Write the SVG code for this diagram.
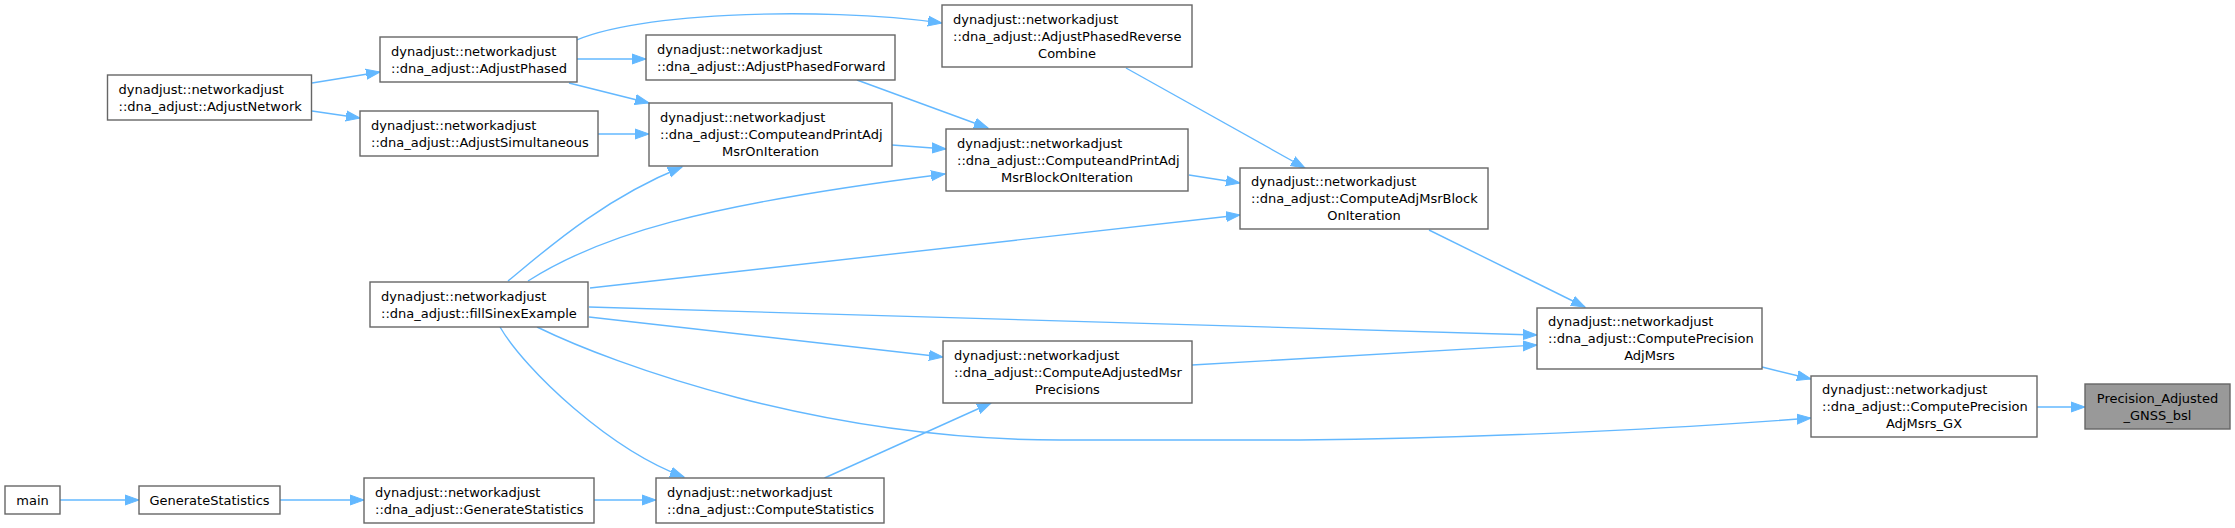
<svg xmlns="http://www.w3.org/2000/svg" width="2235" height="528" viewBox="0 0 2235 528">
<style>
.n rect{fill:#fff;stroke:#666;stroke-width:1.4}
.n.f rect{fill:#999}
.n text{font-family:"DejaVu Sans",sans-serif;font-size:13px;fill:#000}
.n text.c{text-anchor:middle}
#edges path{fill:none;stroke:#63b8ff;stroke-width:1.4;marker-end:url(#ah)}
</style>
<defs>
<marker id="ah" viewBox="0 -6 16 12" markerWidth="16" markerHeight="12" refX="14" refY="0" orient="auto" markerUnits="userSpaceOnUse">
<path d="M0,-5 L14,0 L0,5 Z" fill="#63b8ff" stroke="#63b8ff" stroke-width="1"/>
</marker>
</defs>
<rect width="2235" height="528" fill="#fff"/>
<g id="edges">
<path d="M312,83 L380,72"/>
<path d="M312,111 L360,118"/>
<path d="M577,59 L646,59"/>
<path d="M569,83 L649,103"/>
<path d="M565,46 C620,12 820,6 942,23"/>
<path d="M598,134 L649,134"/>
<path d="M857,80 L988,128"/>
<path d="M892,145 L946,149"/>
<path d="M1126,68 L1305,168"/>
<path d="M1189,175 L1240,183"/>
<path d="M590,288 L1240,215"/>
<path d="M508,281 C540,255 600,200 682,167"/>
<path d="M528,281 C600,235 700,205 945,174"/>
<path d="M589,307 L1537,335"/>
<path d="M589,317 L943,357"/>
<path d="M537,327 C615,365 820,440 1060,440 L1300,440 C1500,438 1700,427 1811,418"/>
<path d="M500,327 C525,370 610,450 684,477"/>
<path d="M1429,230 L1585,307"/>
<path d="M1192,365 L1537,345"/>
<path d="M1762,367 L1811,379"/>
<path d="M2037,407 L2085,407"/>
<path d="M824.5,478 L991,403"/>
<path d="M594,500 L656,500"/>
<path d="M60,500 L139,500"/>
<path d="M280,500 L364,500"/>
</g>
<g id="n_AdjustNetwork" class="n"><rect x="107.5" y="75" width="204" height="45"/><text x="118.5" y="93.5">dynadjust::networkadjust</text><text x="118.5" y="110.5">::dna_adjust::AdjustNetwork</text></g>
<g id="n_AdjustPhased" class="n"><rect x="380" y="37" width="197" height="45"/><text x="391" y="55.5">dynadjust::networkadjust</text><text x="391" y="72.5">::dna_adjust::AdjustPhased</text></g>
<g id="n_AdjustSimultaneous" class="n"><rect x="360" y="111" width="238" height="45"/><text x="371" y="129.5">dynadjust::networkadjust</text><text x="371" y="146.5">::dna_adjust::AdjustSimultaneous</text></g>
<g id="n_AdjustPhasedForward" class="n"><rect x="646" y="35" width="249" height="45"/><text x="657" y="53.5">dynadjust::networkadjust</text><text x="657" y="70.5">::dna_adjust::AdjustPhasedForward</text></g>
<g id="n_AdjustPhasedReverseCombine" class="n"><rect x="942" y="5" width="250" height="62"/><text x="953" y="23.5">dynadjust::networkadjust</text><text x="953" y="40.5">::dna_adjust::AdjustPhasedReverse</text><text class="c" x="1067" y="57.5">Combine</text></g>
<g id="n_ComputeandPrintAdjMsrOnIteration" class="n"><rect x="649" y="103" width="243" height="63"/><text x="660" y="122">dynadjust::networkadjust</text><text x="660" y="139">::dna_adjust::ComputeandPrintAdj</text><text class="c" x="770.5" y="156">MsrOnIteration</text></g>
<g id="n_ComputeandPrintAdjMsrBlockOnIteration" class="n"><rect x="946" y="129" width="242" height="62"/><text x="957" y="147.5">dynadjust::networkadjust</text><text x="957" y="164.5">::dna_adjust::ComputeandPrintAdj</text><text class="c" x="1067" y="181.5">MsrBlockOnIteration</text></g>
<g id="n_ComputeAdjMsrBlockOnIteration" class="n"><rect x="1240" y="168" width="248" height="61"/><text x="1251" y="186">dynadjust::networkadjust</text><text x="1251" y="203">::dna_adjust::ComputeAdjMsrBlock</text><text class="c" x="1364" y="220">OnIteration</text></g>
<g id="n_ComputePrecisionAdjMsrs" class="n"><rect x="1537" y="308" width="225" height="61"/><text x="1548" y="326">dynadjust::networkadjust</text><text x="1548" y="343">::dna_adjust::ComputePrecision</text><text class="c" x="1649.5" y="360">AdjMsrs</text></g>
<g id="n_ComputePrecisionAdjMsrs_GX" class="n"><rect x="1811" y="376" width="226" height="61"/><text x="1822" y="394">dynadjust::networkadjust</text><text x="1822" y="411">::dna_adjust::ComputePrecision</text><text class="c" x="1924" y="428">AdjMsrs_GX</text></g>
<g id="n_Precision_Adjusted_GNSS_bsl" class="n f"><rect x="2085" y="384" width="145" height="45"/><text class="c" x="2157.5" y="402.5">Precision_Adjusted</text><text class="c" x="2157.5" y="419.5">_GNSS_bsl</text></g>
<g id="n_fillSinexExample" class="n"><rect x="370" y="282" width="218" height="45"/><text x="381" y="300.5">dynadjust::networkadjust</text><text x="381" y="317.5">::dna_adjust::fillSinexExample</text></g>
<g id="n_ComputeAdjustedMsrPrecisions" class="n"><rect x="943" y="341" width="249" height="62"/><text x="954" y="359.5">dynadjust::networkadjust</text><text x="954" y="376.5">::dna_adjust::ComputeAdjustedMsr</text><text class="c" x="1067.5" y="393.5">Precisions</text></g>
<g id="n_ComputeStatistics" class="n"><rect x="656" y="478" width="228" height="45"/><text x="667" y="496.5">dynadjust::networkadjust</text><text x="667" y="513.5">::dna_adjust::ComputeStatistics</text></g>
<g id="n_dna_GenerateStatistics" class="n"><rect x="364" y="478" width="230" height="45"/><text x="375" y="496.5">dynadjust::networkadjust</text><text x="375" y="513.5">::dna_adjust::GenerateStatistics</text></g>
<g id="n_GenerateStatistics" class="n"><rect x="139" y="486" width="141" height="28"/><text class="c" x="209.5" y="504.5">GenerateStatistics</text></g>
<g id="n_main" class="n"><rect x="5" y="486" width="55" height="28"/><text class="c" x="32.5" y="504.5">main</text></g>
</svg>
